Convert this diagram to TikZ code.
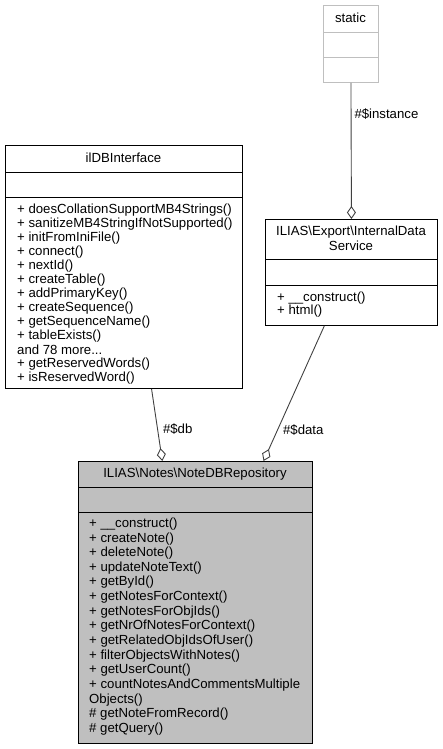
\documentclass[tikz,border=0pt]{standalone}
\usepackage{fontspec}
\setmainfont{Liberation Sans}
\usepackage{tikz}
\usetikzlibrary{positioning}
\usetikzlibrary{arrows.meta}
\usetikzlibrary{calc}
\definecolor[named]{grey25}{RGB}{64,64,64}
\definecolor[named]{grey75}{RGB}{191,191,191}

\begin{document}
\begin{tikzpicture}[x=1pt,y=-1pt]
   \useasboundingbox (0,0) rectangle (443,749);
   \tikzstyle{every node}=[inner sep=0pt,font=\fontsize{13.2}{14}\selectfont];
   \tikzstyle{classbox}=[draw=black,line width=0.9pt,fill=white,anchor=north west,shape=rectangle];
   \tikzstyle{member}=[anchor=west];
   \tikzstyle{relation}=[draw=grey25,line width=0.9pt,-{Diamond[open,length=13pt,width=9pt]}];
   % static
   \node[classbox,draw=grey75,minimum width=55,minimum height=77] (static) at (323,5) {};
   \draw[grey75,line width=0.9pt] (static.west |- 0,32) -- (static.east |- 0,32);
   \draw[grey75,line width=0.9pt] (static.west |- 0,57) -- (static.east |- 0,57);
   \node (statictitle) at (350.5,18) {static};
   % ilDBInterface
   \node[classbox,minimum width=237,minimum height=243] (ildb) at (5,145) {};
   \draw[line width=0.9pt] (ildb.west |- 0,172) -- (ildb.east |- 0,172);
   \draw[line width=0.9pt] (ildb.west |- 0,197) -- (ildb.east |- 0,197);
   \node (ildbtitle) at (123.5,158) {ilDBInterface};
   \foreach \m [count=\i from 0] in {+ doesCollationSupportMB4Strings(),+ sanitizeMB4StringIfNotSupported(),+ initFromIniFile(),+ connect(),+ nextId(),+ createTable(),+ addPrimaryKey(),+ createSequence(),+ getSequenceName(),+ tableExists(),and 78 more.{}.{}.,+ getReservedWords(),+ isReservedWord()}
      \node[member] at (17,{210+14*\i}) {\m};
   % ILIAS\Export\InternalDataService
   \node[classbox,minimum width=172,minimum height=106] (ids) at (265,219) {};
   \draw[line width=0.9pt] (ids.west |- 0,259) -- (ids.east |- 0,259);
   \draw[line width=0.9pt] (ids.west |- 0,285) -- (ids.east |- 0,285);
   \node[align=center,font=\fontsize{13.2}{15}\selectfont] (idstitle) at (351,238.5) {ILIAS\textbackslash Export\textbackslash InternalData\\Service};
   \foreach \m [count=\i from 0] in {+ \_\_construct(),+ html()}
      \node[member] at (277,{298+13*\i}) {\m};
   % ILIAS\Notes\NoteDBRepository
   \node[classbox,fill=grey75,minimum width=234,minimum height=282] (repo) at (78,461) {};
   \draw[line width=0.9pt] (repo.west |- 0,487) -- (repo.east |- 0,487);
   \draw[line width=0.9pt] (repo.west |- 0,512) -- (repo.east |- 0,512);
   \node (repotitle) at (195,474) {ILIAS\textbackslash Notes\textbackslash NoteDBRepository};
   \foreach \m [count=\i from 0] in {+ \_\_construct(),+ createNote(),+ deleteNote(),+ updateNoteText(),+ getById(),+ getNotesForContext(),+ getNotesForObjIds(),+ getNrOfNotesForContext(),+ getRelatedObjIdsOfUser(),+ filterObjectsWithNotes(),+ getUserCount(),+ countNotesAndCommentsMultiple,Objects(),\# getNoteFromRecord(),\# getQuery()}
      \node[member] at (89,{524+14.64*\i}) {\m};
   % relations
   \draw[relation] (static.south) -- (ids.north) node[pos=0.226,anchor=west,xshift=3pt] (instancelabel) {\#\$instance};
   \draw[relation] ($(ildb.south west)!0.616!(ildb.south east)$) -- ($(repo.north west)!0.359!(repo.north east)$) node[pos=0.56,anchor=west,xshift=5pt] (dblabel) {\#\$db};
   \draw[relation] ($(ids.south west)!0.343!(ids.south east)$) -- ($(repo.north west)!0.79!(repo.north east)$) node[pos=0.768,anchor=west,xshift=5pt] (datalabel) {\#\$data};
\end{tikzpicture}
\end{document}
